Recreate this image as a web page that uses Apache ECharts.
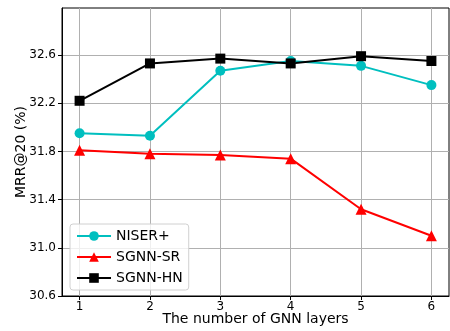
<!DOCTYPE html>
<html><head><meta charset="utf-8">
<script src="https://cdn.jsdelivr.net/npm/echarts@6/dist/echarts.min.js"></script>
<style>html,body{margin:0;padding:0;background:#fff}#c{width:450px;height:331px}</style>
</head><body><div id="c"></div>
<script>
const layers = [1, 2, 3, 4, 5, 6];
const niser = [31.95, 31.93, 32.47, 32.55, 32.51, 32.35];
const sgnnSR = [31.81, 31.78, 31.77, 31.74, 31.32, 31.10];
const sgnnHN = [32.22, 32.53, 32.57, 32.53, 32.59, 32.55];
const yTicks = [30.6, 31.0, 31.4, 31.8, 32.2, 32.6];

const font = 'DejaVu Sans';
const pair = arr => layers.map((x, i) => [x, arr[i]]);
const chart = echarts.init(document.getElementById('c'), null, {renderer: 'canvas'});
const mk = (name, data, color, symbol, size) => ({
  name, type: 'line', data: pair(data), symbol, symbolSize: size,
  lineStyle: {color, width: 2}, itemStyle: {color}, animation: false
});
chart.setOption({
  animation: false,
  grid: {left: 62, top: 8, right: 1, bottom: 35, show: true, borderColor: '#000', borderWidth: 1,
    containLabel: false, outerBoundsMode: 'none'},
  xAxis: {
    type: 'value', min: 0.75, max: 6.25,
    name: 'The number of GNN layers', nameLocation: 'middle', nameGap: 16, nameMoveOverlap: false,
    nameTextStyle: {fontFamily: font, fontSize: 14, color: '#000'},
    axisLine: {show: true, lineStyle: {color: '#000'}},
    axisTick: {show: true, inside: false, length: 4, customValues: layers, lineStyle: {color: '#000'}},
    axisLabel: {customValues: layers, fontFamily: font, fontSize: 12, color: '#000', margin: 5},
    splitLine: {show: true, lineStyle: {color: '#b0b0b0', width: 1}}
  },
  yAxis: {
    type: 'value', min: 30.6, max: 32.99,
    name: 'MRR@20 (%)', nameLocation: 'middle', nameGap: 34, nameMoveOverlap: false,
    nameTextStyle: {fontFamily: font, fontSize: 14, color: '#000'},
    axisLine: {show: true, lineStyle: {color: '#000'}},
    axisTick: {show: true, length: 4, customValues: yTicks, lineStyle: {color: '#000'}},
    axisLabel: {customValues: yTicks, fontFamily: font, fontSize: 12, color: '#000', margin: 6,
      formatter: v => Number(v).toFixed(1)},
    splitLine: {show: true, lineStyle: {color: '#b0b0b0', width: 1}}
  },
  legend: {
    orient: 'vertical', left: 70, top: 224, itemGap: 7, itemWidth: 34, itemHeight: 12,
    padding: [5, 6, 5, 6],
    backgroundColor: 'rgba(255,255,255,0.8)', borderColor: '#d0d0d0', borderWidth: 1, borderRadius: 3,
    textStyle: {fontFamily: font, fontSize: 14, color: '#000'},
    data: ['NISER+', 'SGNN-SR', 'SGNN-HN']
  },
  series: [
    mk('NISER+', niser, '#00bfbf', 'circle', 10),
    mk('SGNN-SR', sgnnSR, '#ff0000', 'triangle', 11),
    mk('SGNN-HN', sgnnHN, '#000000', 'rect', 10)
  ]
});
</script></body></html>
